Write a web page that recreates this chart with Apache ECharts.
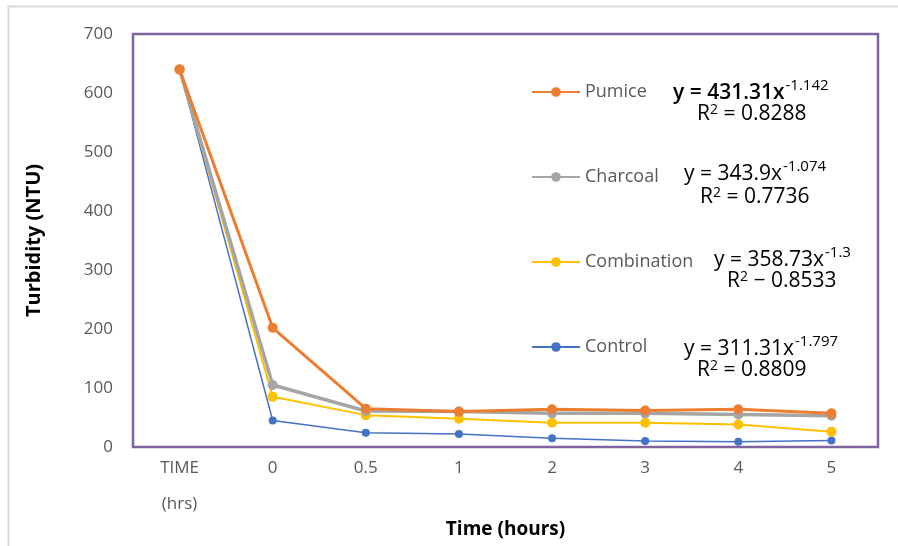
<!DOCTYPE html>
<html>
<head>
<meta charset="utf-8">
<script src="https://cdn.jsdelivr.net/npm/echarts@6/dist/echarts.min.js"></script>
<style>html,body{margin:0;padding:0;background:#fff}#c{width:898px;height:546px}</style>
</head>
<body>
<div id="c"></div>
<script>
const categories = ['TIME\n(hrs)', '0', '0.5', '1', '2', '3', '4', '5'];
const pumice = [640, 202, 65, 60, 64, 62, 64, 57];
const charcoal = [640, 105, 61, 60, 57, 57, 55, 53];
const combination = [640, 85, 54, 48, 41, 41, 38, 26];
const control = [640, 45, 24, 22, 15, 10, 9, 11];
const seriesNames = ['Pumice', 'Charcoal', 'Combination', 'Control'];
const equations = [
  {coef: 'y = 431.31x', exp: '-1.142', r2: '0.8288', sign: '='},
  {coef: 'y = 343.9x', exp: '-1.074', r2: '0.7736', sign: '='},
  {coef: 'y = 358.73x', exp: '-1.3', r2: '0.8533', sign: '\u2212'},
  {coef: 'y = 311.31x', exp: '-1.797', r2: '0.8809', sign: '='}
];
const colors = ['#ED7D31', '#A5A5A5', '#FFC000', '#4472C4'];
const widths = [3, 3.5, 2, 1.5];
const eqPos = [[673, 91, 697, 116], [684, 172, 700, 199], [714, 258, 727, 283], [684, 347, 697, 372]];

const chart = echarts.init(document.getElementById('c'));
const FONT = 'Open Sans';
const dataSets = [pumice, charcoal, combination, control];

const graphics = [{
  type: 'rect', shape: {x: 8.5, y: 6.5, width: 1000, height: 1000},
  style: {fill: 'none', stroke: '#d9d9d9', lineWidth: 2}, z: -1
}];
equations.forEach((e, i) => {
  const p = eqPos[i];
  graphics.push({
    type: 'text', left: p[0], top: p[1] - 13,
    style: {
      text: '{a|' + e.coef + '}{s|' + e.exp + '}',
      rich: {
        a: {fontFamily: FONT, fontSize: 21, fill: '#000', fontWeight: i === 0 ? 600 : 'normal', verticalAlign: 'bottom', lineHeight: 26},
        s: {fontFamily: FONT, fontSize: 15, fill: '#000', verticalAlign: 'top', lineHeight: 26, padding: [0,0,12,1]}
      }
    }
  });
  graphics.push({
    type: 'text', left: p[2], top: p[3] - 13,
    style: {
      text: 'R{s|2} ' + e.sign + ' ' + e.r2,
      fontFamily: FONT, fontSize: 21, fill: '#000',
      rich: {s: {fontFamily: FONT, fontSize: 14, fill: '#000', padding: [0,0,9,0]}}
    }
  });
});

chart.setOption({
  animation: false,
  backgroundColor: '#fff',
  grid: {left: 133, top: 34, right: 20, bottom: 99, outerBoundsMode: 'none', containLabel: false, show: true, borderColor: '#8064A2', borderWidth: 2.5, backgroundColor: 'transparent'},
  legend: {
    data: seriesNames, orient: 'vertical', left: 526, top: 78,
    itemWidth: 48, itemHeight: 12, itemGap: 67,
    textStyle: {fontFamily: FONT, fontSize: 18, color: '#595959'}
  },
  xAxis: {
    type: 'category', data: categories, boundaryGap: true,
    name: 'Time (hours)', nameLocation: 'middle', nameGap: 73, nameMoveOverlap: false,
    nameTextStyle: {fontFamily: FONT, fontSize: 19, fontWeight: 'bold', color: '#000'},
    axisLine: {show: false}, axisTick: {show: false},
    axisLabel: {fontFamily: FONT, fontSize: 17, color: '#595959', lineHeight: 36, margin: 3}
  },
  yAxis: {
    type: 'value', min: 0, max: 700, interval: 100,
    name: 'Turbidity (NTU)', nameLocation: 'middle', nameGap: 89, nameMoveOverlap: false,
    nameTextStyle: {fontFamily: FONT, fontSize: 20, fontWeight: 'bold', color: '#000'},
    axisLine: {show: false}, axisTick: {show: false}, splitLine: {show: false},
    axisLabel: {fontFamily: FONT, fontSize: 17, color: '#595959', margin: 20}
  },
  series: dataSets.map((d, i) => ({
    name: seriesNames[i], type: 'line', data: d,
    symbol: 'circle', symbolSize: i === 3 ? 8 : 10,
    lineStyle: {color: colors[i], width: widths[i]},
    itemStyle: {color: colors[i]},
    z: 10 - i
  })),
  graphic: graphics
});
</script>
</body>
</html>
